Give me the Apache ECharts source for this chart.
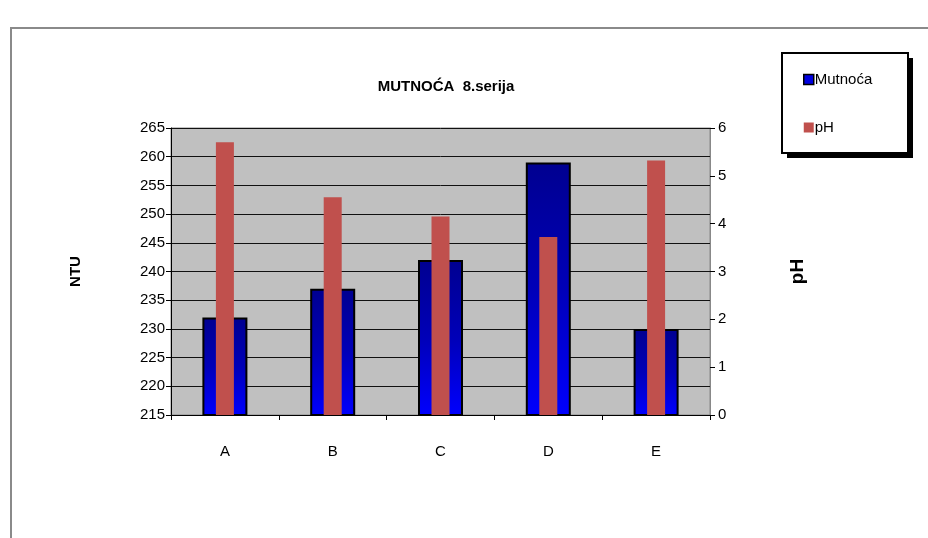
<!DOCTYPE html>
<html>
<head>
<meta charset="utf-8">
<script src="https://cdn.jsdelivr.net/npm/echarts@6/dist/echarts.min.js"></script>
<style>
  html, body { margin: 0; padding: 0; background: #fff; }
  #chart { width: 928px; height: 538px; }
</style>
</head>
<body>
<div id="chart"></div>
<script>
  var categories = ['A', 'B', 'C', 'D', 'E'];
  var mutnoca = [232, 237, 242, 259, 230];
  var ph = [5.7, 4.55, 4.15, 3.72, 5.32];
  var ntuTicks = { min: 215, max: 265, step: 5 };
  var phTicks = { min: 0, max: 6, step: 1 };

  var font = '"Liberation Sans", Arial, sans-serif';

  var option = {
    backgroundColor: '#fff',
    animation: false,
    title: {
      text: 'MUTNOĆA  8.serija',
      left: 441,
      textAlign: 'center',
      top: 74,
      textStyle: { fontFamily: font, fontSize: 15, fontWeight: 'bold', color: '#000' }
    },
    graphic: [
      { type: 'rect', shape: { x: 11, y: 28, width: 940, height: 530 },
        style: { fill: 'none', stroke: '#8a8a8a', lineWidth: 2 }, silent: true },
      { type: 'rect', shape: { x: 787, y: 58, width: 126, height: 100 },
        style: { fill: '#000' }, silent: true },
      { type: 'rect', shape: { x: 782, y: 53, width: 126, height: 100 },
        style: { fill: '#fff', stroke: '#000', lineWidth: 2 }, silent: true }
    ],
    legend: {
      orient: 'vertical',
      left: 798,
      top: 67,
      icon: 'rect',
      itemWidth: 10,
      itemHeight: 10,
      itemGap: 33,
      z: 10,
      textStyle: { fontFamily: font, fontSize: 15, color: '#000', padding: [0, 0, 0, -4] },
      data: [
        { name: 'Mutnoća', itemStyle: { color: '#0000e0', borderColor: '#000', borderWidth: 1.5 } },
        { name: 'pH', itemStyle: { color: '#c0504d', borderWidth: 0 } }
      ]
    },
    grid: {
      left: 171, right: 218, top: 128, bottom: 123,
      show: true,
      backgroundColor: '#c0c0c0',
      borderColor: '#888',
      borderWidth: 1
    },
    xAxis: [
      {
        type: 'category',
        data: categories,
        axisLine: { lineStyle: { color: '#000', width: 1 } },
        axisTick: { show: true, length: 5, lineStyle: { color: '#000' } },
        axisLabel: { margin: 29, fontFamily: font, fontSize: 15, color: '#000' }
      },
      {
        type: 'category',
        data: categories,
        show: false
      }
    ],
    yAxis: [
      {
        type: 'value',
        name: 'NTU',
        nameLocation: 'middle',
        nameGap: 88,
        nameRotate: 90,
        nameTextStyle: { fontFamily: font, fontSize: 15, fontWeight: 'bold', color: '#000' },
        min: ntuTicks.min,
        max: ntuTicks.max,
        interval: ntuTicks.step,
        axisLine: { show: true, lineStyle: { color: '#000' } },
        axisTick: { show: true, length: 5, lineStyle: { color: '#000' } },
        axisLabel: { margin: 6, fontFamily: font, fontSize: 15, color: '#000' },
        splitLine: { show: true, lineStyle: { color: '#111', width: 1 } }
      },
      {
        type: 'value',
        name: 'pH',
        nameLocation: 'middle',
        nameGap: 78,
        nameRotate: 90,
        nameTextStyle: { fontFamily: font, fontSize: 19, fontWeight: 'bold', color: '#000' },
        min: phTicks.min,
        max: phTicks.max,
        interval: phTicks.step,
        axisLine: { show: true, lineStyle: { color: '#888' } },
        axisTick: { show: true, length: 5, lineStyle: { color: '#000' } },
        axisLabel: { margin: 8, fontFamily: font, fontSize: 15, color: '#000' },
        splitLine: { show: false }
      }
    ],
    series: [
      {
        name: 'Mutnoća',
        type: 'bar',
        xAxisIndex: 0,
        yAxisIndex: 0,
        barWidth: 45,
        data: mutnoca,
        itemStyle: {
          borderColor: '#000',
          borderWidth: 2,
          color: new echarts.graphic.LinearGradient(0, 0, 0, 1, [
            { offset: 0, color: '#000090' },
            { offset: 0.5, color: '#0000b8' },
            { offset: 1, color: '#0000ff' }
          ])
        }
      },
      {
        name: 'pH',
        type: 'bar',
        xAxisIndex: 1,
        yAxisIndex: 1,
        barWidth: 18,
        data: ph,
        itemStyle: { color: '#c0504d' }
      }
    ]
  };

  var chart = echarts.init(document.getElementById('chart'));
  chart.setOption(option);
</script>
</body>
</html>
